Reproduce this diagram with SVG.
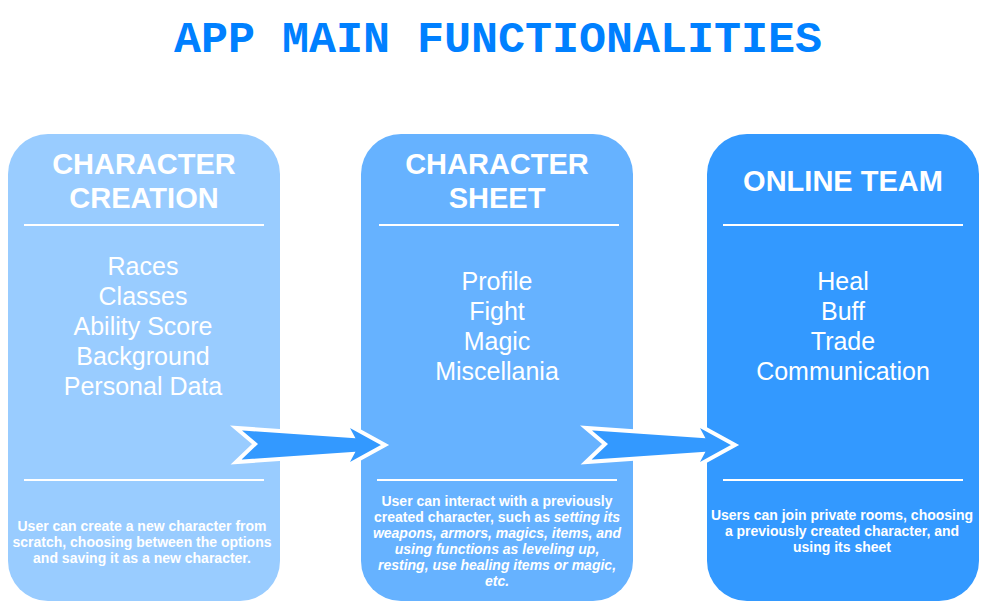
<svg xmlns="http://www.w3.org/2000/svg" width="988" height="610" viewBox="0 0 988 610">
  <style>
    .title { font-family: "Liberation Mono", "DejaVu Sans Mono", monospace; font-weight: bold; font-size: 45px; fill: #0080FF; }
    .head { font-family: "Liberation Sans", Arial, sans-serif; font-weight: bold; font-size: 29px; fill: #FFFFFF; text-anchor: middle; }
    .item { font-family: "Liberation Sans", Arial, sans-serif; font-size: 25px; fill: #FFFFFF; text-anchor: middle; }
    .note { font-family: "Liberation Sans", Arial, sans-serif; font-weight: bold; font-size: 14px; fill: #FFFFFF; text-anchor: middle; }
    .sep { stroke: #FFFFFF; stroke-width: 2; }
    .arrow { fill: #3399FF; stroke: #FFFFFF; stroke-width: 4; stroke-linejoin: miter; }
  </style>
  <defs>
    <path id="bigArrow" d="M236,428 L255,444 L236,462 L352,454 L345,467 L385,445 L345,423 L352,436 Z"/>
  </defs>

  <rect width="988" height="610" fill="#FFFFFF"/>

  <text class="title" x="498" y="52" text-anchor="middle">APP MAIN FUNCTIONALITIES</text>

  <g id="character-creation">
    <rect x="8" y="134" width="272" height="467" rx="40" ry="40" fill="#99CCFF"/>
    <text class="head" x="144" y="174">CHARACTER</text>
    <text class="head" x="144" y="208">CREATION</text>
    <line class="sep" x1="24" y1="225" x2="264" y2="225"/>
    <text class="item" x="143" y="275">Races</text>
    <text class="item" x="143" y="305">Classes</text>
    <text class="item" x="143" y="335">Ability Score</text>
    <text class="item" x="143" y="365">Background</text>
    <text class="item" x="143" y="395">Personal Data</text>
    <line class="sep" x1="24" y1="480" x2="264" y2="480"/>
    <text class="note" x="142" y="531">User can create a new character from</text>
    <text class="note" x="142" y="547">scratch, choosing between the options</text>
    <text class="note" x="142" y="563">and saving it as a new character.</text>
  </g>

  <g id="character-sheet">
    <rect x="361" y="134" width="272" height="467" rx="40" ry="40" fill="#66B2FF"/>
    <text class="head" x="497" y="174">CHARACTER</text>
    <text class="head" x="497" y="208">SHEET</text>
    <line class="sep" x1="379" y1="225" x2="619" y2="225"/>
    <text class="item" x="497" y="290">Profile</text>
    <text class="item" x="497" y="320">Fight</text>
    <text class="item" x="497" y="350">Magic</text>
    <text class="item" x="497" y="380">Miscellania</text>
    <line class="sep" x1="377" y1="480" x2="617" y2="480"/>
    <text class="note" x="497" y="506">User can interact with a previously</text>
    <text class="note" x="497" y="522">created character, such as <tspan font-style="italic">setting its</tspan></text>
    <text class="note" x="497" y="538" font-style="italic">weapons, armors, magics, items, and</text>
    <text class="note" x="497" y="554" font-style="italic">using functions as leveling up,</text>
    <text class="note" x="497" y="570" font-style="italic">resting, use healing items or magic,</text>
    <text class="note" x="497" y="586" font-style="italic">etc.</text>
  </g>

  <g id="online-team">
    <rect x="707" y="134" width="272" height="467" rx="40" ry="40" fill="#3399FF"/>
    <text class="head" x="843" y="191">ONLINE TEAM</text>
    <line class="sep" x1="723" y1="225" x2="963" y2="225"/>
    <text class="item" x="843" y="290">Heal</text>
    <text class="item" x="843" y="320">Buff</text>
    <text class="item" x="843" y="350">Trade</text>
    <text class="item" x="843" y="380">Communication</text>
    <line class="sep" x1="723" y1="480" x2="963" y2="480"/>
    <text class="note" x="842" y="520">Users can join private rooms, choosing</text>
    <text class="note" x="842" y="536">a previously created character, and</text>
    <text class="note" x="842" y="552">using its sheet</text>
  </g>

  <g id="connectors">
    <use href="#bigArrow" class="arrow"/>
    <use href="#bigArrow" class="arrow" transform="translate(350,0)"/>
  </g>
</svg>
